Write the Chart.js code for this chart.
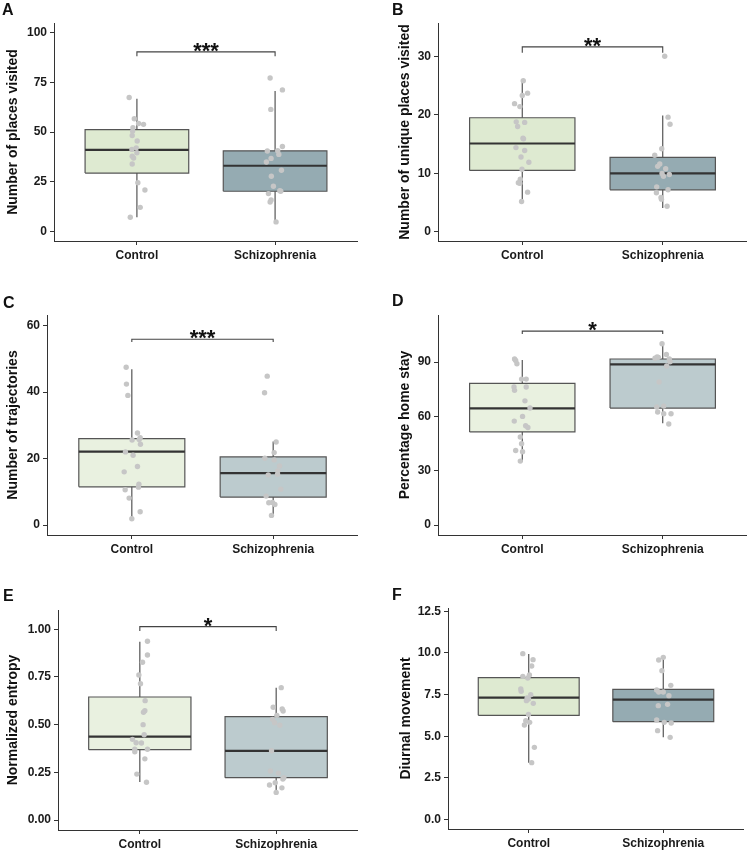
<!DOCTYPE html>
<html><head><meta charset="utf-8">
<script src="https://cdn.jsdelivr.net/npm/chart.js@4.4.1/dist/chart.umd.min.js"></script>
<style>
html,body{margin:0;padding:0;background:#fff;}
body{width:750px;height:850px;position:relative;overflow:hidden;font-family:"Liberation Sans",Arial,sans-serif;}
canvas{position:absolute;}
.lab{position:absolute;font:bold 16px "Liberation Sans",Arial,sans-serif;color:#111;line-height:1;z-index:2;}
</style></head><body>
<canvas id="cA"></canvas><canvas id="cB"></canvas><canvas id="cC"></canvas>
<canvas id="cD"></canvas><canvas id="cE"></canvas><canvas id="cF"></canvas>
<div class="lab" style="left:2px;top:2px">A</div>
<div class="lab" style="left:392px;top:2px">B</div>
<div class="lab" style="left:3px;top:295px">C</div>
<div class="lab" style="left:392px;top:293px">D</div>
<div class="lab" style="left:3px;top:588px">E</div>
<div class="lab" style="left:392px;top:587px">F</div>
<script>
// ---------- data ----------
const groups = ['Control', 'Schizophrenia'];

// A: Number of places visited
const titleA = 'Number of places visited';
const ticksA = [0, 25, 50, 75, 100];
const tickLabelsA = ['0', '25', '50', '75', '100'];
const boxCtrlA = [7.2, 29.4, 41.1, 51.2, 66.7];   // lower whisker, Q1, median, Q3, upper whisker
const boxSchA = [4.9, 20.3, 33.1, 40.6, 70.7];
const ctrlA = [67.4, 56.7, 54.3, 53.9, 52.2, 50.5, 48.3, 45.5, 42.1, 41.3, 39.6, 37.9, 37.0, 34.0, 24.6, 20.9, 12.2, 7.2];
const ctrlJitA = [-0.056, -0.019, 0.012, 0.048, -0.029, -0.031, -0.034, 0.002, -0.005, -0.036, 0.0, -0.034, -0.024, -0.034, 0.007, 0.058, 0.024, -0.048];
const schA = [77.2, 71.2, 61.4, 42.8, 40.5, 40.6, 38.8, 36.8, 35.0, 30.8, 27.8, 22.8, 20.6, 20.3, 19.1, 15.9, 14.9, 4.9];
const schJitA = [-0.036, 0.053, -0.031, 0.053, -0.056, 0.019, 0.027, -0.029, -0.063, 0.046, -0.027, -0.012, 0.034, 0.041, -0.048, -0.029, -0.036, 0.007];
const sigA = ['***', 90.3, 88.1];   // label, bracket level, bracket end

// B: Number of unique places visited
const titleB = 'Number of unique places visited';
const ticksB = [0, 10, 20, 30];
const tickLabelsB = ['0', '10', '20', '30'];
const boxCtrlB = [5.1, 10.5, 15.1, 19.5, 25.9];
const boxSchB = [4.1, 7.2, 10.0, 12.75, 19.9];
const ctrlB = [25.8, 23.7, 23.3, 21.9, 21.4, 18.8, 18.7, 18.0, 16.0, 15.9, 14.4, 13.9, 12.8, 11.9, 10.7, 9.0, 8.4, 8.3, 6.8, 5.2];
const ctrlJitB = [0.007, 0.038, 0, -0.055, -0.017, -0.043, 0.017, -0.033, 0.005, 0.009, -0.045, 0.017, -0.009, 0.047, -0.002, -0.014, -0.028, -0.017, 0.038, -0.005];
const schB = [30.0, 19.6, 18.4, 14.2, 13.1, 11.6, 11.2, 10.8, 10.0, 9.5, 9.8, 7.7, 7.2, 6.7, 5.9, 5.6, 4.4];
const schJitB = [0.014, 0.038, 0.052, -0.007, -0.057, -0.021, -0.036, 0.021, -0.005, 0.005, 0.047, -0.043, 0.038, -0.045, -0.012, -0.009, 0.031];
const sigB = ['**', 31.6, 30.6];

// C: Number of trajectories
const titleC = 'Number of trajectories';
const ticksC = [0, 20, 40, 60];
const tickLabelsC = ['0', '20', '40', '60'];
const boxCtrlC = [1.5, 11.5, 22.1, 26.0, 46.9];
const boxSchC = [2.5, 8.4, 15.6, 20.5, 25.1];
const ctrlC = [47.5, 42.4, 39.0, 27.7, 26.3, 25.7, 24.3, 25.6, 22.0, 21.0, 17.6, 16.0, 12.3, 11.4, 10.6, 8.1, 4.0, 1.9];
const ctrlJitC = [-0.040, -0.038, -0.028, 0.040, 0.059, 0.052, 0.061, 0.002, -0.045, 0.009, 0.040, -0.054, 0.050, 0.047, -0.047, -0.019, 0.059, 0];
const schC = [44.8, 39.8, 25.0, 21.8, 20.1, 19.6, 17.8, 16.3, 15.1, 15.3, 10.8, 8.7, 6.7, 6.8, 6.2, 2.9];
const schJitC = [-0.042, -0.061, 0.021, 0.007, -0.059, 0.007, 0.045, 0.033, -0.035, 0.031, 0.054, -0.050, -0.031, -0.005, 0.012, -0.012];
const sigC = ['***', 55.9, 55.1];

// D: Percentage home stay
const titleD = 'Percentage home stay';
const ticksD = [0, 30, 60, 90];
const tickLabelsD = ['0', '30', '60', '90'];
const boxCtrlD = [35.0, 51.4, 64.4, 78.2, 91.1];
const boxSchD = [56.2, 64.6, 88.7, 91.7, 100.9];
const ctrlD = [91.7, 90.9, 89.1, 80.6, 80.6, 76.2, 74.4, 76.2, 68.6, 64.6, 60.0, 57.4, 54.8, 53.9, 48.6, 44.9, 41.2, 40.5, 35.3];
const ctrlJitD = [-0.055, -0.047, -0.038, -0.005, 0.028, -0.059, -0.055, 0.028, 0.019, 0.055, 0.002, -0.057, 0.024, 0.040, -0.014, -0.005, -0.047, 0.002, -0.014];
const schD = [100.1, 94.2, 92.8, 92.1, 92.6, 91.7, 90.2, 87.8, 79.0, 65.2, 65.7, 62.4, 61.5, 61.5, 55.8];
const schJitD = [-0.005, 0.026, -0.040, -0.055, -0.031, 0.047, 0.052, 0.028, -0.026, -0.043, 0.007, -0.036, 0.007, 0.059, 0.043];
const sigD = ['*', 107.1, 105.5];

// E: Normalized entropy
const titleE = 'Normalized entropy';
const ticksE = [0, 0.25, 0.5, 0.75, 1.0];
const tickLabelsE = ['0.00', '0.25', '0.50', '0.75', '1.00'];
const boxCtrlE = [0.199, 0.369, 0.437, 0.645, 0.935];
const boxSchE = [0.148, 0.222, 0.363, 0.542, 0.694];
const ctrlE = [0.937, 0.865, 0.827, 0.760, 0.715, 0.626, 0.573, 0.565, 0.500, 0.447, 0.423, 0.405, 0.404, 0.372, 0.358, 0.371, 0.321, 0.241, 0.198];
const ctrlJitE = [0.056, 0.056, 0.020, -0.007, 0.005, 0.039, 0.037, 0.027, 0.024, 0.032, -0.054, -0.027, 0.012, -0.037, -0.037, 0.056, 0.037, -0.022, 0.049];
const schE = [0.694, 0.591, 0.582, 0.572, 0.549, 0.528, 0.510, 0.497, 0.363, 0.257, 0.246, 0.222, 0.215, 0.196, 0.184, 0.169, 0.145];
const schJitE = [0.037, -0.022, 0.044, 0.051, 0.005, -0.027, -0.012, 0.027, -0.034, -0.042, 0.017, 0.056, 0.049, -0.007, -0.049, 0.042, 0];
const sigE = ['*', 1.014, 0.991];

// F: Diurnal movement
const titleF = 'Diurnal movement';
const ticksF = [0, 2.5, 5, 7.5, 10, 12.5];
const tickLabelsF = ['0.0', '2.5', '5.0', '7.5', '10.0', '12.5'];
const boxCtrlF = [3.42, 6.26, 7.32, 8.52, 9.94];
const boxSchF = [4.94, 5.88, 7.20, 7.82, 9.76];
const ctrlF = [9.96, 9.60, 9.22, 8.60, 8.50, 8.68, 7.84, 7.70, 7.50, 7.30, 7.14, 7.24, 6.98, 6.32, 5.94, 5.84, 5.68, 4.34, 3.42];
const ctrlJitF = [-0.044, 0.032, 0.022, -0.044, -0.007, 0.005, -0.059, -0.056, 0.015, -0.012, -0.017, -0.002, 0.034, -0.002, -0.022, 0.007, -0.032, 0.042, 0.022];
const schF = [9.74, 9.58, 8.94, 8.06, 7.78, 7.66, 7.66, 7.44, 6.84, 6.92, 5.98, 5.84, 5.80, 5.34, 4.94];
const schJitF = [0, -0.034, -0.010, 0.056, -0.049, 0, -0.034, 0.042, -0.037, 0.032, -0.049, 0.007, 0.059, -0.042, 0.051];
const sigF = null;

// ---------- drawing ----------
const FONT = '"Liberation Sans", Arial, Helvetica, sans-serif';
const HW = 0.375;
const PADTOP = 10;

const sigPlugin = {
  id: 'sigText',
  afterDatasetsDraw(chart) {
    const s = chart.options.plugins.sigText;
    if (!s || !s.sig) return;
    const ctx = chart.ctx;
    const x = chart.scales.x.getPixelForValue(1.5);
    const y = chart.scales.y.getPixelForValue(s.sig[1]);
    ctx.save();
    ctx.font = 'bold 22px ' + FONT;
    ctx.fillStyle = '#111';
    ctx.textAlign = 'center';
    ctx.textBaseline = 'alphabetic';
    ctx.fillText(s.sig[0], x, y + 6);
    ctx.restore();
  }
};

function makePanel(p) {
  const cv = document.getElementById(p.id);
  const h = p.h + PADTOP;
  cv.width = p.w; cv.height = h;
  cv.style.left = p.left + 'px'; cv.style.top = (p.top - PADTOP) + 'px';
  cv.style.width = p.w + 'px'; cv.style.height = h + 'px';
  const ds = [];
  const boxes = [p.boxC, p.boxS];
  const pts = [[p.ctrl, p.ctrlJ], [p.sch, p.schJ]];
  boxes.forEach((b, i) => {
    const c = i + 1;
    ds.push({ type: 'scatter', data: pts[i][0].map((v, k) => ({ x: c + pts[i][1][k], y: v })),
      pointRadius: 2.7, pointBackgroundColor: '#c6c6c6', pointBorderWidth: 0, showLine: false, order: 0 });
    ds.push({ type: 'line', data: [{ x: c - HW, y: b[2] }, { x: c + HW, y: b[2] }],
      borderColor: '#333', borderWidth: 2.2, pointRadius: 0, fill: false, order: 2 });
    ds.push({ type: 'line', data: [{ x: c - HW, y: b[1] }, { x: c + HW, y: b[1] }, { x: c + HW, y: b[3] }, { x: c - HW, y: b[3] }, { x: c - HW, y: b[1] }],
      borderColor: '#555', borderWidth: 1.2, borderJoinStyle: 'miter', pointRadius: 0, fill: false, order: 3 });
    ds.push({ type: 'line', data: [{ x: c - HW, y: b[3] }, { x: c + HW, y: b[3] }],
      backgroundColor: p.fills[i], borderWidth: 0, borderColor: 'rgba(0,0,0,0)', pointRadius: 0, fill: { value: b[1] }, order: 5 });
    ds.push({ type: 'line', data: [{ x: c, y: b[3] }, { x: c, y: b[4] }],
      borderColor: '#555', borderWidth: 1.2, pointRadius: 0, fill: false, order: 4 });
    ds.push({ type: 'line', data: [{ x: c, y: b[0] }, { x: c, y: b[1] }],
      borderColor: '#555', borderWidth: 1.2, pointRadius: 0, fill: false, order: 4 });
  });
  if (p.sig) {
    ds.push({ type: 'line', data: [{ x: 1, y: p.sig[2] }, { x: 1, y: p.sig[1] }, { x: 2, y: p.sig[1] }, { x: 2, y: p.sig[2] }],
      borderColor: '#444', borderWidth: 1.1, pointRadius: 0, fill: false, order: 1 });
  }
  const axisCol = '#333';
  new Chart(cv, {
    type: 'scatter',
    data: { datasets: ds },
    plugins: [sigPlugin],
    options: {
      responsive: false, animation: false, devicePixelRatio: 1,
      layout: { padding: { top: PADTOP, left: 0, right: 0, bottom: 0 }, autoPadding: false },
      plugins: { legend: { display: false }, tooltip: { enabled: false }, sigText: { sig: p.sig } },
      scales: {
        x: {
          type: 'linear', min: 0.4, max: 2.6,
          afterBuildTicks: s => { s.ticks = [{ value: 1 }, { value: 2 }]; },
          afterFit: s => { s.height = 24; s.paddingLeft = 0; s.paddingRight = 0; },
          ticks: { callback: (v, i) => groups[i], autoSkip: false, maxRotation: 0, padding: 3,
            font: { family: FONT, size: 12, weight: 'bold' }, color: '#1a1a1a' },
          grid: { drawOnChartArea: false, drawTicks: true, tickLength: 4, color: axisCol, tickWidth: 1 },
          border: { display: true, color: axisCol, width: 1 }
        },
        y: {
          type: 'linear', min: p.ymin, max: p.ymax,
          afterBuildTicks: s => { s.ticks = p.ticks.map(v => ({ value: v })); },
          afterFit: s => { s.width = p.axisW; s.paddingTop = 0; s.paddingBottom = 0; },
          ticks: { callback: (v, i) => p.tickLabels[i], padding: 3,
            font: { family: FONT, size: 12, weight: 'bold' }, color: '#1a1a1a' },
          grid: { drawOnChartArea: false, drawTicks: true, tickLength: 4, color: axisCol, tickWidth: 1 },
          border: { display: true, color: axisCol, width: 1 },
          title: { display: true, text: p.title, color: '#111',
            font: { family: FONT, size: 14, weight: 'bold' }, padding: { top: p.titleC - 8.4, bottom: 0 } }
        }
      }
    }
  });
}

const fillsDark = ['#deead1', '#95abb2'];
const fillsLight = ['#e9f1e0', '#bccbce'];

makePanel({ id: 'cA', left: 0, top: 23, w: 358, h: 242, axisW: 54, titleC: 13, ymin: -4.7, ymax: 104.8,
  ticks: ticksA, tickLabels: tickLabelsA, title: titleA, boxC: boxCtrlA, boxS: boxSchA,
  ctrl: ctrlA, ctrlJ: ctrlJitA, sch: schA, schJ: schJitA, sig: sigA, fills: fillsDark });
makePanel({ id: 'cB', left: 375, top: 23, w: 372, h: 242, axisW: 63, titleC: 30, ymin: -1.54, ymax: 35.67,
  ticks: ticksB, tickLabels: tickLabelsB, title: titleB, boxC: boxCtrlB, boxS: boxSchB,
  ctrl: ctrlB, ctrlJ: ctrlJitB, sch: schB, schJ: schJitB, sig: sigB, fills: fillsDark });
makePanel({ id: 'cC', left: 0, top: 315, w: 358, h: 244, axisW: 47, titleC: 13, ymin: -3.0, ymax: 63.2,
  ticks: ticksC, tickLabels: tickLabelsC, title: titleC, boxC: boxCtrlC, boxS: boxSchC,
  ctrl: ctrlC, ctrlJ: ctrlJitC, sch: schC, schJ: schJitC, sig: sigC, fills: fillsLight });
makePanel({ id: 'cD', left: 375, top: 315, w: 372, h: 244, axisW: 63, titleC: 30, ymin: -5.5, ymax: 116.0,
  ticks: ticksD, tickLabels: tickLabelsD, title: titleD, boxC: boxCtrlD, boxS: boxSchD,
  ctrl: ctrlD, ctrlJ: ctrlJitD, sch: schD, schJ: schJitD, sig: sigD, fills: fillsLight });
makePanel({ id: 'cE', left: 0, top: 610, w: 358, h: 244, axisW: 58, titleC: 13, ymin: -0.052, ymax: 1.101,
  ticks: ticksE, tickLabels: tickLabelsE, title: titleE, boxC: boxCtrlE, boxS: boxSchE,
  ctrl: ctrlE, ctrlJ: ctrlJitE, sch: schE, schJ: schJitE, sig: sigE, fills: fillsLight });
makePanel({ id: 'cF', left: 375, top: 608, w: 369, h: 245, axisW: 73, titleC: 31.5, ymin: -0.56, ymax: 12.7,
  ticks: ticksF, tickLabels: tickLabelsF, title: titleF, boxC: boxCtrlF, boxS: boxSchF,
  ctrl: ctrlF, ctrlJ: ctrlJitF, sch: schF, schJ: schJitF, sig: sigF, fills: fillsDark });
</script>
</body></html>
